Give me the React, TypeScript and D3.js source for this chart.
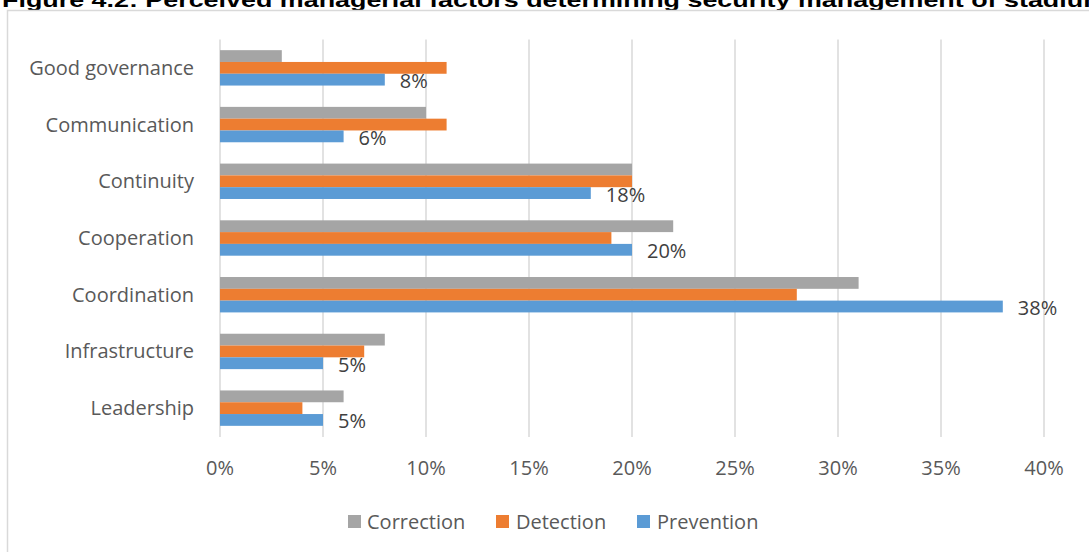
import React from "react";
import * as d3 from "d3";

const categories = ["Good governance", "Communication", "Continuity", "Cooperation", "Coordination", "Infrastructure", "Leadership"];
const seriesNames = ["Correction", "Detection", "Prevention"];
const correction = [3, 10, 20, 22, 31, 8, 6];
const detection = [11, 11, 20, 19, 28, 7, 4];
const prevention = [8, 6, 18, 20, 38, 5, 5];
const preventionLabels = ["8%", "6%", "18%", "20%", "38%", "5%", "5%"];
const xTicks = [0, 5, 10, 15, 20, 25, 30, 35, 40];
const colors = ["#a5a5a5", "#ed7d31", "#5b9bd5"];
const title = "Figure 4.2: Perceived managerial factors determining security management of stadiums";

const W = 1089;
const H = 552;
const FONT = "'Open Sans', sans-serif";

export default function App() {
  const x = d3.scaleLinear().domain([0, 40]).range([220, 1044]);
  const y = d3.scaleBand<string>().domain(categories).range([39.5, 436.5]).paddingInner(0.376).paddingOuter(0.188);
  const inner = d3.scaleBand<string>().domain(seriesNames).range([0, y.bandwidth()]);
  const series = [correction, detection, prevention];

  const legendItems = [
    { name: "Correction", sx: 348, tx: 367 },
    { name: "Detection", sx: 496, tx: 516 },
    { name: "Prevention", sx: 637, tx: 657 },
  ];

  return (
    <svg width={W} height={H} style={{ position: "absolute", left: 0, top: 0, background: "#fff" }} fontFamily={FONT}>
      <rect x={0} y={0} width={W} height={H} fill="#fff" />
      <text
        x={2}
        y={6.5}
        fontFamily="'Liberation Sans Narrow', 'Liberation Sans', Arial, sans-serif"
        fontWeight="bold"
        fontSize={20}
        fill="#000"
        textLength={1120}
        lengthAdjust="spacingAndGlyphs"
      >
        {title}
      </text>
      <rect x={7.5} y={10.5} width={W + 20} height={H + 20} fill="#fff" stroke="#d9d9d9" strokeWidth={1.5} />
      {xTicks.map((t) => (
        <g key={t}>
          <line x1={x(t)} x2={x(t)} y1={39.5} y2={437} stroke="#d9d9d9" strokeWidth={1.5} />
          <text x={x(t)} y={475} textAnchor="middle" fontSize={20} fill="#595959">{t + "%"}</text>
        </g>
      ))}
      {categories.map((c, i) => (
        <g key={c}>
          {series.map((vals, s) => (
            <rect
              key={s}
              x={x(0)}
              y={(y(c) as number) + (inner(seriesNames[s]) as number)}
              width={x(vals[i]) - x(0)}
              height={inner.bandwidth()}
              fill={colors[s]}
            />
          ))}
          <text x={194} y={(y(c) as number) + y.bandwidth() / 2 + 7} textAnchor="end" fontSize={20} fill="#595959">{c}</text>
          <text
            x={x(prevention[i]) + 15}
            y={(y(c) as number) + (inner("Prevention") as number) + inner.bandwidth() / 2 + 8.5}
            fontSize={20}
            fill="#404040"
          >
            {preventionLabels[i]}
          </text>
        </g>
      ))}
      {legendItems.map((l, i) => (
        <g key={l.name}>
          <rect x={l.sx} y={515} width={13} height={13} fill={colors[i]} />
          <text x={l.tx} y={529} fontSize={20} fill="#595959">{l.name}</text>
        </g>
      ))}
    </svg>
  );
}
